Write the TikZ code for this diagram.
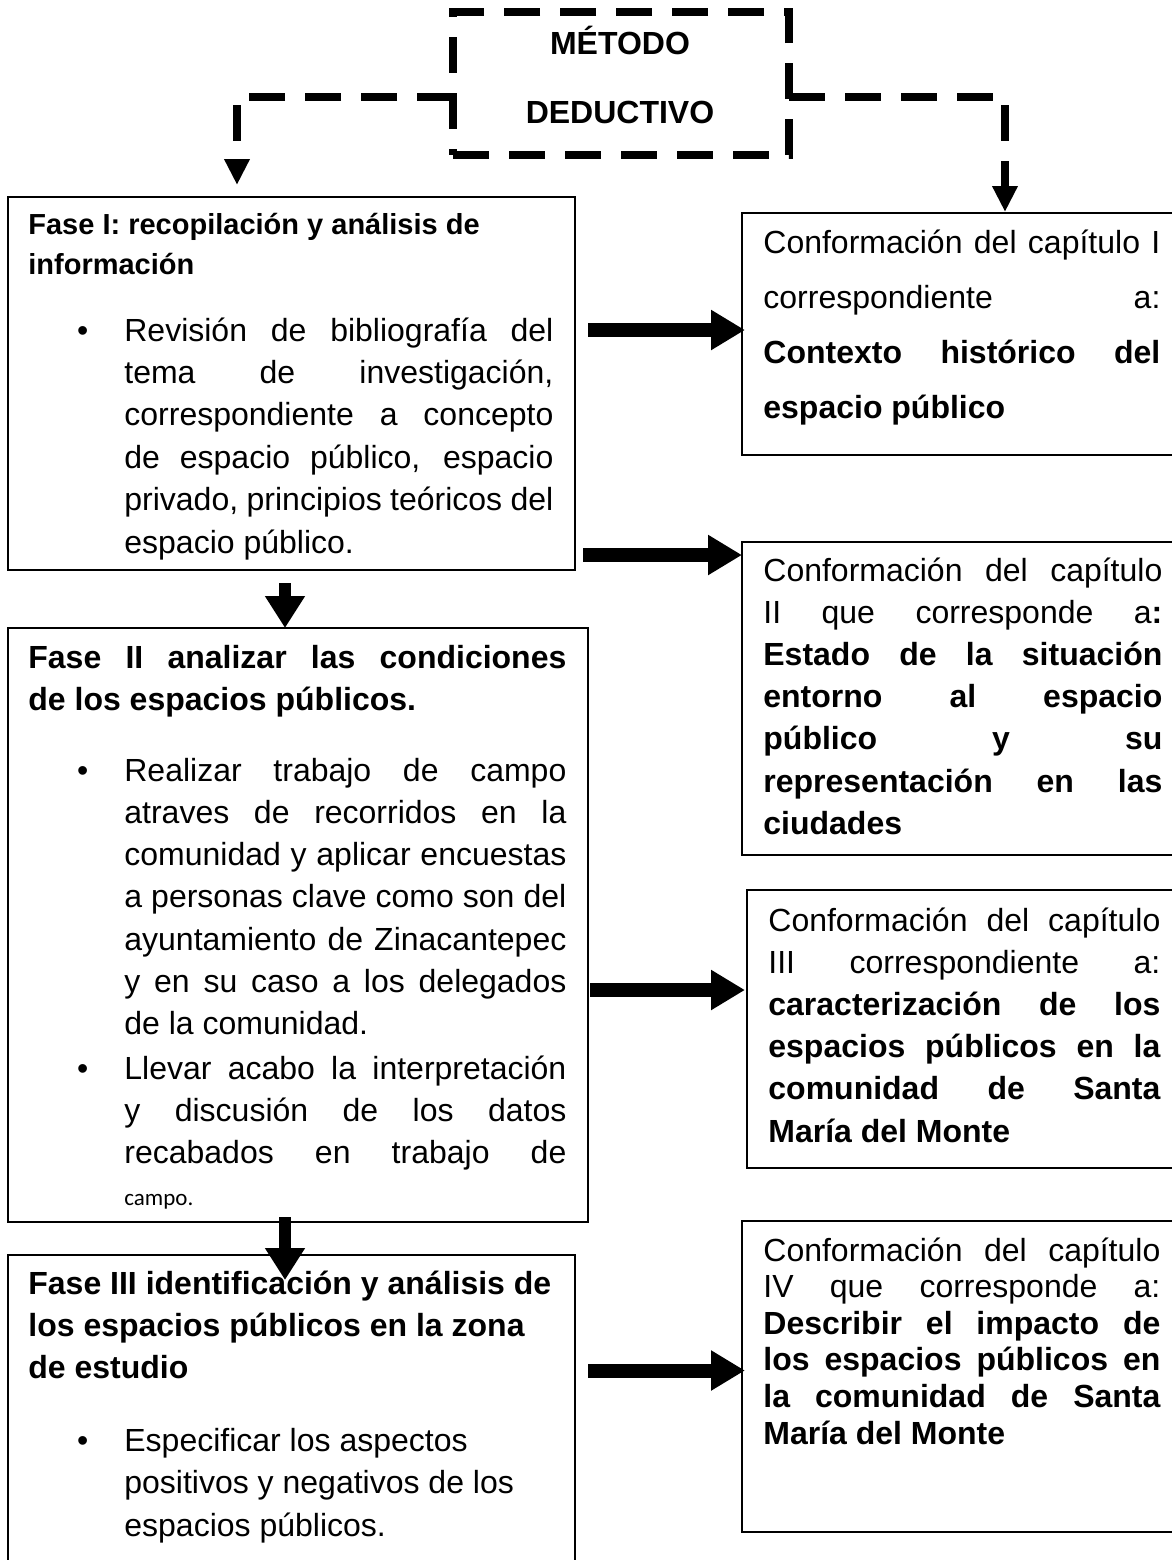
\documentclass[tikz,border=0pt]{standalone}
\usepackage{fontspec}
\setmainfont{Liberation Sans}
\newfontfamily\calibrifont{Carlito}
\usetikzlibrary{arrows.meta,calc}
\newcommand{\jl}[1]{\makebox[\hsize][s]{\spaceskip=0pt\xspaceskip=0pt #1}\\}
\newcommand{\bul}{\llap{\textbullet\hspace{18pt}}}
\tikzset{
  fasebox/.style={draw, line width=0.8pt, rectangle, anchor=north west, inner sep=0pt, outer sep=0pt},
  txt/.style={anchor=base west, inner sep=0pt, align=justify},
  fatarrow/.style={line width=7pt, -{Triangle[length=17pt,width=19pt]}},
  downarrow/.style={line width=6pt, -{Triangle[length=16pt,width=19pt]}},
  dashlink/.style={line width=3.7pt, dash pattern=on 18pt off 10pt, -{Triangle[length=13pt,width=12pt]}}
}
\begin{document}
\begin{tikzpicture}[x=0.5pt,y=-0.5pt]
\useasboundingbox (0,0) rectangle (1172,1560);
\clip (0,0) rectangle (1172,1560);
\fill[white] (0,0) rectangle (1172,1560);

% Metodo deductivo
\node[draw, line width=3.7pt, dash pattern=on 18pt off 10pt, anchor=north west, inner sep=0pt, outer sep=0pt,
  minimum width=168pt, minimum height=71.5pt] (metodo) at (453,12) {};
\node[anchor=base, inner sep=0pt, font=\bfseries\fontsize{16pt}{18pt}\selectfont] (metodo1) at (620,54) {MÉTODO};
\node[anchor=base, inner sep=0pt, font=\bfseries\fontsize{16pt}{18pt}\selectfont] (metodo2) at (620,123) {DEDUCTIVO};

% Fase I
\node[fasebox, minimum width=283.5pt, minimum height=186.5pt] (f1) at (8,197) {};
\node[txt, text width=280pt, font=\bfseries\fontsize{14.5pt}{20pt}\selectfont] (f1t) at (28,234)
  {Fase I: recopilación y análisis de\\información};
\node[txt, text width=214.5pt, font=\fontsize{16pt}{21.2pt}\selectfont] (f1b) at (124,341)
  {\bul\jl{Revisión de bibliografía del}\jl{tema de investigación,}\jl{correspondiente a concepto}%
   \jl{de espacio público, espacio}\jl{privado, principios teóricos del}espacio público.};

% Fase II
\node[fasebox, minimum width=290pt, minimum height=297pt] (f2) at (8,628) {};
\node[txt, text width=269pt, font=\bfseries\fontsize{16pt}{21pt}\selectfont] (f2t) at (28,668)
  {\jl{Fase II analizar las condiciones}de los espacios públicos.};
\node[txt, text width=221pt, font=\fontsize{16pt}{21.15pt}\selectfont] (f2b1) at (124,781)
  {\bul\jl{Realizar trabajo de campo}\jl{atraves de recorridos en la}\jl{comunidad y aplicar encuestas}%
   \jl{a personas clave como son del}\jl{ayuntamiento de Zinacantepec}\jl{y en su caso a los delegados}de la comunidad.};
\node[txt, text width=221pt, font=\fontsize{16pt}{21.15pt}\selectfont] (f2b2) at (124,1079)
  {\bul\jl{Llevar acabo la interpretación}\jl{y discusión de los datos}\jl{recabados en trabajo de}%
   {\calibrifont\fontsize{11.5pt}{21pt}\selectfont campo.}};

% Fase III
\node[fasebox, minimum width=283.5pt, minimum height=200pt] (f3) at (8,1255) {};
\node[txt, text width=280pt, font=\bfseries\fontsize{16pt}{21pt}\selectfont] (f3t) at (28,1294)
  {Fase III identificación y análisis de\\los espacios públicos en la zona\\de estudio};
\node[txt, text width=240pt, font=\fontsize{16pt}{21.25pt}\selectfont] (f3b) at (124,1451)
  {\bul Especificar los aspectos\\positivos y negativos de los\\espacios públicos.};

% Capitulos
\node[fasebox, minimum width=230pt, minimum height=121pt] (c1) at (742,213) {};
\node[txt, text width=198.5pt, font=\fontsize{16pt}{27.5pt}\selectfont] (c1t) at (763,253)
  {\jl{Conformación del capítulo I}\jl{correspondiente a:}\jl{\bfseries Contexto histórico del}\textbf{espacio público}};
\node[fasebox, minimum width=230pt, minimum height=156.5pt] (c2) at (742,542) {};
\node[txt, text width=199.5pt, font=\fontsize{16pt}{21.1pt}\selectfont] (c2t) at (763,581)
  {\jl{Conformación del capítulo}\jl{II que corresponde a\textbf{:}}\jl{\bfseries Estado de la situación}%
   \jl{\bfseries entorno al espacio}\jl{\bfseries público y su}\jl{\bfseries representación en las}\textbf{ciudades}};
\node[fasebox, minimum width=230pt, minimum height=139pt] (c3) at (747,890) {};
\node[txt, text width=196pt, font=\fontsize{16pt}{21.1pt}\selectfont] (c3t) at (768,931)
  {\jl{Conformación del capítulo}\jl{III correspondiente a:}\jl{\bfseries caracterización de los}%
   \jl{\bfseries espacios públicos en la}\jl{\bfseries comunidad de Santa}\textbf{María del Monte}};
\node[fasebox, minimum width=230pt, minimum height=155.5pt] (c4) at (742,1221) {};
\node[txt, text width=198.5pt, font=\fontsize{16pt}{18.3pt}\selectfont] (c4t) at (763,1261)
  {\lineskiplimit=-20pt\relax
   \jl{Conformación del capítulo}\jl{IV que corresponde a:}\jl{\bfseries Describir el impacto de}%
   \jl{\bfseries los espacios públicos en}\jl{\bfseries la comunidad de Santa}\textbf{María del Monte}};

% dashed links
\draw[dashlink] ($(metodo.west)+(0,13.5)$) -| ($(f1.north)+(-54.5,-12)$);
\draw[dashlink] ($(metodo.east)+(0,13.5)$) -| ($(c1.north)+(33,-1)$);

% fat arrows
\draw[fatarrow] ($(f1.east |- c1.west)+(13,-4)$) -- ($(c1.west)+(3,-4)$);
\draw[fatarrow] ($(f1.east |- c2.north)+(8,13)$) -- ($(c2.north west)+(0,13)$);
\draw[fatarrow] ($(f2.east |- c3.north)+(2,100)$) -- ($(c3.north west)+(-2,100)$);
\draw[fatarrow] ($(f3.east |- c4.west)+(13,-6)$) -- ($(c4.west)+(3,-6)$);
\coordinate (v1s) at ($(f1.south)+(-6.5,13)$);
\draw[downarrow] (v1s) -- (v1s |- f2.north);
\coordinate (v2s) at ($(f2.south)+(-13,-5)$);
\draw[downarrow] (v2s) -- ($(v2s |- f3.north)+(0,25)$);
\end{tikzpicture}
\end{document}
